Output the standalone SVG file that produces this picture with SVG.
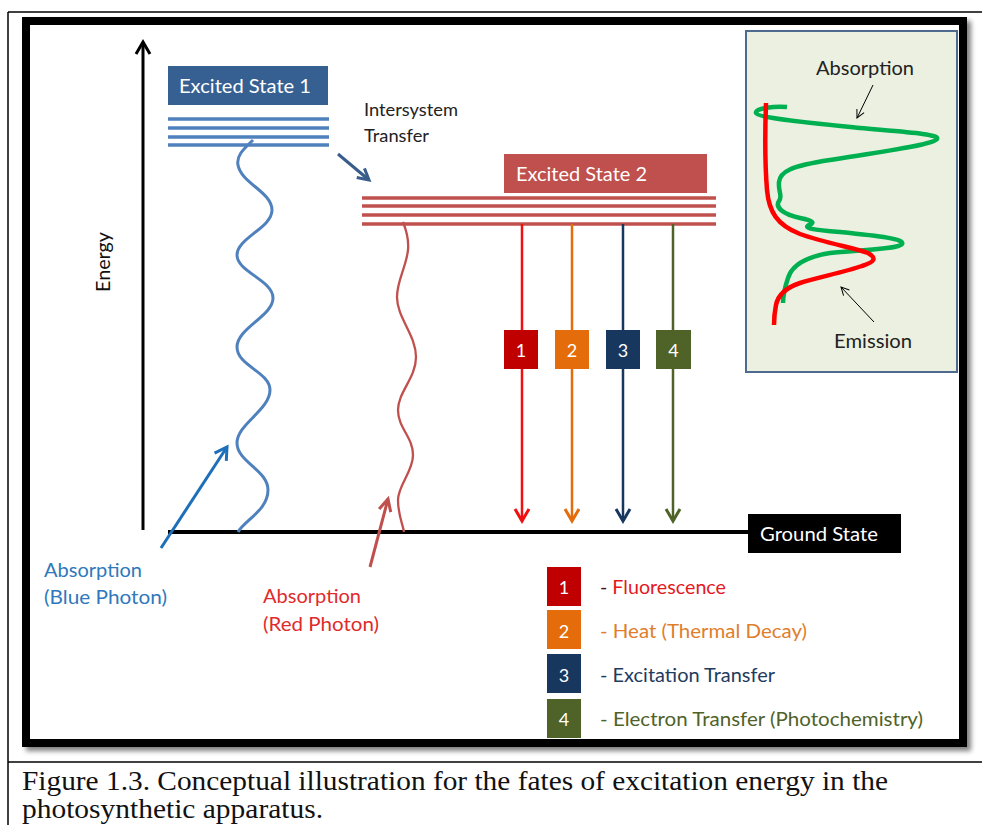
<svg xmlns="http://www.w3.org/2000/svg" width="982" height="825" viewBox="0 0 982 825">
  <defs>
    <style>
      .lbl { font-family: Lato, "Open Sans", "DejaVu Sans", sans-serif; }
      .wt { fill: #ffffff; }
      .cap { font-family: "Liberation Serif", "Times New Roman", serif; font-size: 28px; fill: #111; }
      .blvl { stroke: #4F81BD; stroke-width: 3.5; }
      .rlvl { stroke: #C0504D; stroke-width: 3.5; }
      .num { font-family: Lato, "Open Sans", sans-serif; font-size: 18px; fill: #fff; text-anchor: middle; }
      .leg { font-family: Lato, "Open Sans", sans-serif; font-size: 18.5px; }
    </style>
    <filter id="shadow" x="-5%" y="-5%" width="110%" height="110%">
      <feGaussianBlur in="SourceAlpha" stdDeviation="2.5"/>
      <feOffset dx="4" dy="4" result="b"/>
      <feComponentTransfer><feFuncA type="linear" slope="0.5"/></feComponentTransfer>
      <feMerge><feMergeNode/><feMergeNode in="SourceGraphic"/></feMerge>
    </filter>
    <marker id="mBlack" markerUnits="userSpaceOnUse" markerWidth="20" markerHeight="20" viewBox="-15 -10 20 20" refX="0" refY="0" orient="auto">
      <path d="M-12,-7 L0,0 L-12,7" fill="none" stroke="#000" stroke-width="3"/>
    </marker>
    <marker id="mThin" markerUnits="userSpaceOnUse" markerWidth="14" markerHeight="14" viewBox="-10 -7 14 14" refX="0" refY="0" orient="auto">
      <path d="M-8,-4 L0,0 L-8,4" fill="none" stroke="#000" stroke-width="1"/>
    </marker>
    <marker id="mIsc" markerUnits="userSpaceOnUse" markerWidth="20" markerHeight="20" viewBox="-15 -10 20 20" refX="0" refY="0" orient="auto">
      <path d="M-11,-6 L0,0 L-11,6" fill="none" stroke="#385D8A" stroke-width="3"/>
    </marker>
    <marker id="mBlue" markerUnits="userSpaceOnUse" markerWidth="20" markerHeight="20" viewBox="-15 -10 20 20" refX="0" refY="0" orient="auto">
      <path d="M-12,-7 L0,0 L-12,7" fill="none" stroke="#1C6FB8" stroke-width="3"/>
    </marker>
    <marker id="mRedA" markerUnits="userSpaceOnUse" markerWidth="20" markerHeight="20" viewBox="-15 -10 20 20" refX="0" refY="0" orient="auto">
      <path d="M-12,-6 L0,0 L-12,6" fill="none" stroke="#C0504D" stroke-width="3"/>
    </marker>
    <marker id="m1" markerUnits="userSpaceOnUse" markerWidth="20" markerHeight="20" viewBox="-15 -10 20 20" refX="0" refY="0" orient="auto">
      <path d="M-12,-7 L0,0 L-12,7" fill="none" stroke="#F01010" stroke-width="3"/>
    </marker>
    <marker id="m2" markerUnits="userSpaceOnUse" markerWidth="20" markerHeight="20" viewBox="-15 -10 20 20" refX="0" refY="0" orient="auto">
      <path d="M-12,-7 L0,0 L-12,7" fill="none" stroke="#E46C0A" stroke-width="3"/>
    </marker>
    <marker id="m3" markerUnits="userSpaceOnUse" markerWidth="20" markerHeight="20" viewBox="-15 -10 20 20" refX="0" refY="0" orient="auto">
      <path d="M-12,-7 L0,0 L-12,7" fill="none" stroke="#17375E" stroke-width="3"/>
    </marker>
    <marker id="m4" markerUnits="userSpaceOnUse" markerWidth="20" markerHeight="20" viewBox="-15 -10 20 20" refX="0" refY="0" orient="auto">
      <path d="M-12,-7 L0,0 L-12,7" fill="none" stroke="#4F6228" stroke-width="3"/>
    </marker>
  </defs>

  <rect x="0" y="0" width="982" height="825" fill="#ffffff"/>

  <!-- outer page frame -->
  <g id="page-frame" stroke="#000" stroke-width="1.5" fill="none">
    <line x1="8" y1="12" x2="982" y2="12"/>
    <line x1="8" y1="12" x2="8" y2="825"/>
    <line x1="8" y1="762" x2="982" y2="762"/>
  </g>

  <!-- thick figure frame -->
  <rect id="figure-frame" x="26" y="21" width="937" height="722" fill="#ffffff" stroke="#000" stroke-width="8" filter="url(#shadow)"/>

  <!-- Energy axis -->
  <g id="energy-axis">
    <line x1="143" y1="530" x2="143" y2="42" stroke="#000" stroke-width="3" marker-end="url(#mBlack)"/>
    <text class="lbl" x="0" y="0" font-size="19" fill="#111" text-anchor="middle" textLength="60" lengthAdjust="spacingAndGlyphs" transform="translate(110,262) rotate(-90)">Energy</text>
  </g>

  <!-- Ground state -->
  <g id="ground-state">
    <line x1="168" y1="532" x2="750" y2="532" stroke="#000" stroke-width="4"/>
    <rect x="748" y="514" width="153" height="39" fill="#000"/>
    <text class="lbl wt" x="760" y="541" font-size="19.5" textLength="118" lengthAdjust="spacingAndGlyphs">Ground State</text>
  </g>

  <!-- Excited State 1 -->
  <g id="excited-state-1">
    <rect x="168" y="66" width="160" height="39" fill="#376092"/>
    <text class="lbl wt" x="179" y="93" font-size="20" textLength="132" lengthAdjust="spacingAndGlyphs">Excited State 1</text>
    <line class="blvl" x1="168" y1="119" x2="329" y2="119"/>
    <line class="blvl" x1="168" y1="128" x2="329" y2="128"/>
    <line class="blvl" x1="168" y1="137" x2="329" y2="137"/>
    <line class="blvl" x1="168" y1="145" x2="329" y2="145"/>
  </g>

  <!-- Excited State 2 -->
  <g id="excited-state-2">
    <rect x="504" y="154" width="203" height="39" fill="#C0504D"/>
    <text class="lbl wt" x="516" y="181" font-size="20" textLength="131" lengthAdjust="spacingAndGlyphs">Excited State 2</text>
    <line class="rlvl" x1="362" y1="198" x2="716" y2="198"/>
    <line class="rlvl" x1="362" y1="206" x2="716" y2="206"/>
    <line class="rlvl" x1="362" y1="215" x2="716" y2="215"/>
    <line class="rlvl" x1="362" y1="224" x2="716" y2="224"/>
  </g>

  <!-- Intersystem transfer label -->
  <g id="intersystem-label">
    <text class="lbl" x="364" y="116" font-size="17.5" fill="#222" textLength="94" lengthAdjust="spacingAndGlyphs">Intersystem</text>
    <text class="lbl" x="364" y="142" font-size="17.5" fill="#222" textLength="65" lengthAdjust="spacingAndGlyphs">Transfer</text>
  </g>

  <!-- Absorption labels -->
  <g id="blue-absorption-label" fill="#2F78BC">
    <text class="lbl" x="44" y="577" font-size="19.5" textLength="98" lengthAdjust="spacingAndGlyphs">Absorption</text>
    <text class="lbl" x="44" y="604" font-size="19.5" textLength="123" lengthAdjust="spacingAndGlyphs">(Blue Photon)</text>
  </g>
  <g id="red-absorption-label" fill="#E02B2B">
    <text class="lbl" x="263" y="603" font-size="19.5" textLength="98" lengthAdjust="spacingAndGlyphs">Absorption</text>
    <text class="lbl" x="263" y="631" font-size="19.5" textLength="116" lengthAdjust="spacingAndGlyphs">(Red Photon)</text>
  </g>

  <!-- connectors -->
  <g id="connectors" fill="none">
    <path id="blue-photon-wave" d="M253,140 C245,148 236,155 238,165 C241,183 272,192 272,210 C272,228 237,238 237,255 C237,272 273,280 273,298 C273,316 237,328 237,347 C237,366 270,372 270,390 C270,410 237,424 237,443 C237,462 268,470 268,490 C268,510 245,520 238,532" stroke="#4F81BD" stroke-width="3"/>
    <path id="red-photon-wave" d="M403,222 C407,232 409,240 408,250 C406,268 397,280 397,297 C397,318 416,335 416,357 C416,378 398,392 398,410 C398,428 413,437 413,455 C413,472 398,485 398,500 C398,515 403,525 404,532" stroke="#C0504D" stroke-width="2.3"/>
    <line id="intersystem-arrow" x1="338" y1="154" x2="369" y2="180" stroke="#385D8A" stroke-width="3" marker-end="url(#mIsc)"/>
    <line id="blue-absorption-arrow" x1="161" y1="548" x2="227" y2="447" stroke="#1C6FB8" stroke-width="3" marker-end="url(#mBlue)"/>
    <line id="red-absorption-arrow" x1="370" y1="567" x2="388" y2="499" stroke="#C0504D" stroke-width="3" marker-end="url(#mRedA)"/>
    <line id="fate-1" x1="522" y1="224" x2="522" y2="521" stroke="#F01010" stroke-width="2.5" marker-end="url(#m1)"/>
    <line id="fate-2" x1="572" y1="224" x2="572" y2="521" stroke="#E46C0A" stroke-width="2.5" marker-end="url(#m2)"/>
    <line id="fate-3" x1="623" y1="224" x2="623" y2="521" stroke="#17375E" stroke-width="2.5" marker-end="url(#m3)"/>
    <line id="fate-4" x1="673" y1="224" x2="673" y2="521" stroke="#4F6228" stroke-width="2.5" marker-end="url(#m4)"/>
  </g>

  <!-- number boxes on arrows -->
  <g id="num-1"><rect x="504" y="330" width="34" height="39" fill="#C00000"/><text class="num" x="521" y="357">1</text></g>
  <g id="num-2"><rect x="555" y="330" width="34" height="39" fill="#E46C0A"/><text class="num" x="572" y="357">2</text></g>
  <g id="num-3"><rect x="606" y="330" width="34" height="39" fill="#17375E"/><text class="num" x="623" y="357">3</text></g>
  <g id="num-4"><rect x="656" y="330" width="35" height="39" fill="#4F6228"/><text class="num" x="673.5" y="357">4</text></g>

  <!-- legend -->
  <g id="legend-1">
    <rect x="547" y="567" width="34" height="39" fill="#C00000"/>
    <text class="num" x="564" y="594">1</text>
    <text class="leg" x="600" y="594" textLength="126" lengthAdjust="spacingAndGlyphs"><tspan fill="#4a1010">- </tspan><tspan fill="#E3191E">Fluorescence</tspan></text>
  </g>
  <g id="legend-2">
    <rect x="547" y="610" width="34" height="39" fill="#E46C0A"/>
    <text class="num" x="564" y="638">2</text>
    <text class="leg" x="600" y="638" fill="#E07E2C" textLength="207" lengthAdjust="spacingAndGlyphs">- Heat (Thermal Decay)</text>
  </g>
  <g id="legend-3">
    <rect x="547" y="654" width="34" height="39" fill="#17375E"/>
    <text class="num" x="564" y="682">3</text>
    <text class="leg" x="600" y="682" fill="#1F3B5E" textLength="175" lengthAdjust="spacingAndGlyphs">- Excitation Transfer</text>
  </g>
  <g id="legend-4">
    <rect x="547" y="699" width="34" height="39" fill="#4F6228"/>
    <text class="num" x="564" y="726">4</text>
    <text class="leg" x="600" y="726" fill="#4F6228" textLength="323" lengthAdjust="spacingAndGlyphs">- Electron Transfer (Photochemistry)</text>
  </g>

  <!-- spectrum inset -->
  <g id="spectrum-inset">
    <rect x="746" y="31" width="211" height="341" fill="#ECF0E1" stroke="#4E6A8E" stroke-width="2"/>
    <path d="M787,107 C775,106 755,108 756,113 C758,118 800,122 860,128 C905,132 940,134 937,139 C933,145 880,152 830,160 C790,166 780,172 779,182 C778,192 783,196 779,201 C775,207 782,214 800,218 C815,221 814,223 809,225 C803,228 812,230 840,232 C880,236 905,239 902,244 C899,249 860,250 830,253 C805,257 792,265 788,278 C784,290 783,296 783,303" fill="none" stroke="#00B050" stroke-width="4.5"/>
    <path d="M766,103 C765,130 765,165 767,190 C769,212 777,225 800,234 C825,243 855,248 868,253 C877,258 875,262 862,266 C845,272 815,278 800,283 C785,288 778,295 776,305 C774,315 774,320 774,325" fill="none" stroke="#FF0000" stroke-width="4.5"/>
    <text class="lbl" x="816" y="75" font-size="19.5" fill="#222" textLength="98" lengthAdjust="spacingAndGlyphs">Absorption</text>
    <text class="lbl" x="834" y="348" font-size="19.5" fill="#222" textLength="78" lengthAdjust="spacingAndGlyphs">Emission</text>
    <line x1="873" y1="85" x2="857" y2="118" stroke="#000" stroke-width="1" marker-end="url(#mThin)"/>
    <line x1="874" y1="322" x2="841" y2="287" stroke="#000" stroke-width="1" marker-end="url(#mThin)"/>
  </g>

  <!-- caption -->
  <g id="caption">
    <text class="cap" x="22" y="790" textLength="866" lengthAdjust="spacingAndGlyphs">Figure 1.3. Conceptual illustration for the fates of excitation energy in the</text>
    <text class="cap" x="22" y="818" textLength="301" lengthAdjust="spacingAndGlyphs">photosynthetic apparatus.</text>
  </g>
</svg>
